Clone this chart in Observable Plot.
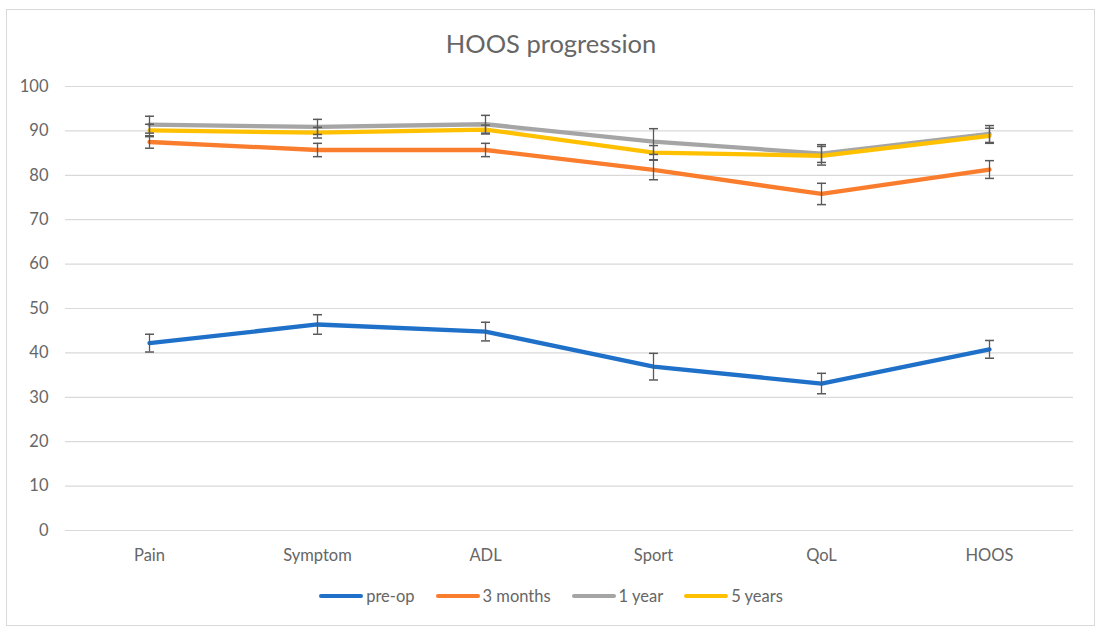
<!DOCTYPE html>
<html>
<head>
<meta charset="utf-8">
<script src="https://cdn.jsdelivr.net/npm/d3@7"></script>
<script src="https://cdn.jsdelivr.net/npm/@observablehq/plot@0.6"></script>
<style>
  html, body { margin: 0; padding: 0; background: #fff; }
  #wrap { position: relative; width: 1102px; height: 634px; font-family: Lato, "Liberation Sans", sans-serif; color: #595959; }
  #frame { position: absolute; left: 6px; top: 9px; width: 1089px; height: 617px; border: 1px solid #d9d9d9; box-sizing: border-box; }
  #title { position: absolute; left: 0; width: 1102px; top: 28px; text-align: center; font-size: 25.5px; color: #666; }
  #chart { position: absolute; left: 0; top: 0; }
  #legend { position: absolute; left: 0; width: 1102px; top: 586px; display: flex; justify-content: center; gap: 21px; font-size: 16.5px; color: #666; }
  .item { display: flex; align-items: center; }
  .sw { width: 44px; height: 4px; border-radius: 2px; margin-right: 3px; }
</style>
</head>
<body>
<div id="wrap">
  <div id="frame"></div>
  <div id="chart"></div>
  <div id="title">HOOS progression</div>
  <div id="legend"></div>
</div>
<script>
const categories = ["Pain", "Symptom", "ADL", "Sport", "QoL", "HOOS"];
const seriesNames = ["pre-op", "3 months", "1 year", "5 years"];
const seriesColors = ["#1f70c8", "#f97d2c", "#a5a5a5", "#ffc000"];
const preOp = [42.2, 46.4, 44.8, 36.9, 33.1, 40.8];
const preOpErr = [2.0, 2.2, 2.1, 3.0, 2.3, 2.0];
const threeMonths = [87.5, 85.7, 85.7, 81.2, 75.8, 81.3];
const threeMonthsErr = [1.4, 1.5, 1.5, 2.2, 2.4, 2.0];
const oneYear = [91.4, 90.9, 91.5, 87.6, 84.9, 89.3];
const oneYearErr = [1.9, 1.7, 2.0, 2.9, 2.0, 1.9];
const fiveYears = [90.1, 89.6, 90.3, 85.1, 84.4, 88.9];
const fiveYearsErr = [1.4, 1.2, 1.0, 1.6, 2.1, 1.7];
const yTicks = [0, 10, 20, 30, 40, 50, 60, 70, 80, 90, 100];

const values = [preOp, threeMonths, oneYear, fiveYears];
const errs = [preOpErr, threeMonthsErr, oneYearErr, fiveYearsErr];
const rows = [];
seriesNames.forEach((s, i) => {
  categories.forEach((c, j) => {
    rows.push({series: s, cat: c, value: values[i][j], lo: values[i][j] - errs[i][j], hi: values[i][j] + errs[i][j]});
  });
});

const capSymbol = {
  draw(ctx) { ctx.moveTo(-4.5, 0); ctx.lineTo(4.5, 0); }
};

const lineMarks = seriesNames.map((s, i) =>
  Plot.line(rows.filter(d => d.series === s), {
    x: "cat", y: "value", stroke: seriesColors[i], strokeWidth: 4.3,
    strokeLinejoin: "round", strokeLinecap: "round"
  })
);

const chart = Plot.plot({
  width: 1102,
  height: 634,
  marginTop: 86,
  marginBottom: 104,
  marginLeft: 65,
  marginRight: 29,
  style: { fontFamily: "Lato, 'Liberation Sans', sans-serif", fontSize: "16.5px", color: "#666", background: "transparent", overflow: "visible" },
  x: { type: "point", domain: categories, padding: 0.5, label: null },
  y: { domain: [0, 100], label: null },
  marks: [
    Plot.gridY(yTicks, { stroke: "#d9d9d9", strokeOpacity: 1, strokeWidth: 1.2 }),
    Plot.axisY(yTicks, { tickSize: 0, tickPadding: 17, label: null, fill: "#666" }),
    Plot.axisX({ tickSize: 0, tickPadding: 19, label: null, fill: "#666" }),
    ...lineMarks,
    Plot.ruleX(rows, { x: "cat", y1: "lo", y2: "hi", stroke: "#595959", strokeWidth: 1.3 }),
    Plot.dot(rows, { x: "cat", y: "lo", symbol: capSymbol, r: 4, fill: "none", stroke: "#595959", strokeWidth: 1.5 }),
    Plot.dot(rows, { x: "cat", y: "hi", symbol: capSymbol, r: 4, fill: "none", stroke: "#595959", strokeWidth: 1.5 })
  ]
});
document.getElementById("chart").appendChild(chart);

const legend = document.getElementById("legend");
seriesNames.forEach((s, i) => {
  const item = document.createElement("div");
  item.className = "item";
  const sw = document.createElement("div");
  sw.className = "sw";
  sw.style.background = seriesColors[i];
  const label = document.createElement("span");
  label.textContent = s;
  item.appendChild(sw);
  item.appendChild(label);
  legend.appendChild(item);
});
</script>
</body>
</html>
